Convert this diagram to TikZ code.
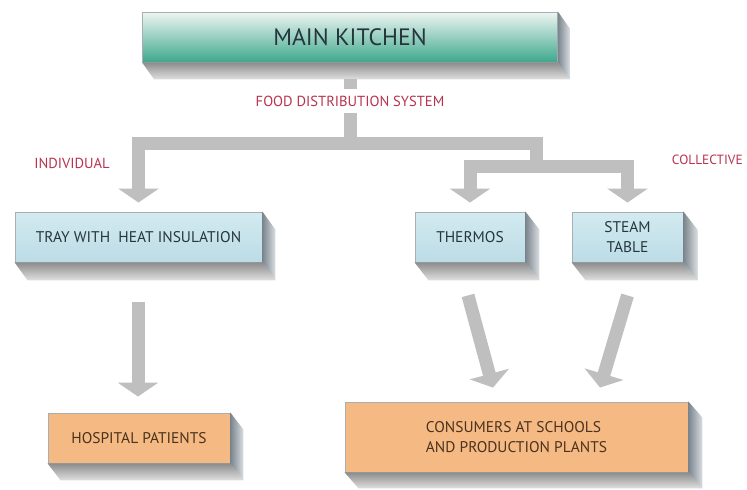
\documentclass[tikz,border=0pt]{standalone}
\usepackage{fontspec}
\setmainfont{PT Sans}
\usetikzlibrary{arrows.meta,calc}
\definecolor{pipegray}{HTML}{BFBFBF}
\definecolor{labelred}{HTML}{B8324F}
\definecolor{edgegray}{HTML}{A7AFB2}
\definecolor{tealtop}{HTML}{EEF5F2}
\definecolor{tealmid}{HTML}{9CD2C1}
\definecolor{tealbot}{HTML}{3FA88D}
\definecolor{bluetop}{HTML}{D3EAF0}
\definecolor{bluebot}{HTML}{BCDCE6}
\definecolor{orangefill}{HTML}{F5B983}
\definecolor{boxtext}{HTML}{26363D}
\definecolor{orangetext}{HTML}{4A321E}
\definecolor{sidedark}{HTML}{7A858D}
\definecolor{sidelight}{HTML}{DADEE1}
\begin{document}
\begin{tikzpicture}[x=0.02cm,y=-0.02cm,line join=miter,>={Triangle[width=0.8cm,length=0.28cm]}]
	\tikzset{
		front/.style={draw=edgegray,line width=0.5pt,inner sep=0pt,align=center,minimum height=1cm,font=\fontsize{8.8}{11}\selectfont},
		kitchenbox/.style={front,top color=tealtop,middle color=tealmid,bottom color=tealbot,text=boxtext,font=\fontsize{13.5}{16}\selectfont},
		bluebox/.style={front,top color=bluetop,bottom color=bluebot,text=boxtext},
		orangebox/.style={front,fill=orangefill,text=orangetext},
		slab/.style={top color=black!45,bottom color=black!12},
		side/.style={left color=sidedark,right color=sidelight},
		pipe/.style={draw=pipegray,line width=0.26cm},
		redlabel/.style={text=labelred,font=\fontsize{8.3}{10}\selectfont}
	}
	\useasboundingbox (0,0) rectangle (747,490);
	% boxes
	\node[kitchenbox,minimum width=8.3cm] (main) at (350,37) {MAIN KITCHEN};
	\node[bluebox,minimum width=4.94cm] (tray) at (138.5,237) {TRAY WITH~ HEAT INSULATION};
	\node[bluebox,minimum width=2.2cm] (thermos) at (470,237) {THERMOS};
	\node[bluebox,minimum width=2.22cm] (steam) at (627.5,237) {STEAM\\TABLE};
	\node[orangebox,minimum width=3.64cm] (hospital) at (139,438) {HOSPITAL PATIENTS};
	\node[orangebox,minimum width=6.86cm,minimum height=1.4cm,align=left] (consumers) at (516.5,437) {CONSUMERS AT SCHOOLS\\AND PRODUCTION PLANTS};
	\foreach \n/\dx/\dy in {main/12/17,tray/13/18,thermos/14/18,steam/14/18,hospital/13/17,consumers/14/16}
	{
		\shade[slab] (\n.south west) -- (\n.south east) -- ($(\n.south east)+(\dx,\dy)$) -- ($(\n.south west)+(\dx,\dy)$) -- cycle;
		\shade[side] (\n.north east) -- ($(\n.north east)+(\dx,\dy)$) -- ($(\n.south east)+(\dx,\dy)$) -- (\n.south east) -- cycle;
	}
	% pipes
	\coordinate (split) at (350,143);
	\coordinate (fork) at (536,166);
	\draw[pipe] ($(main.south)+(0,17)$) -- (split);
	\draw[pipe,->,shorten >=0.18cm] (split) -| (tray.north);
	\draw[pipe] (split) -| (fork);
	\draw[pipe,->,shorten >=0.18cm] (fork) -| (thermos.north);
	\draw[pipe,->,shorten >=0.18cm] (fork) -| (steam.north);
	\draw[pipe,->] ($(tray.south)+(-0.5,40)$) -- ($(hospital.north)+(-1,-16)$);
	\draw[pipe,->] ($(thermos.south)+(-2,33)$) -- ($(consumers.north)+(-23.5,-14)$);
	\draw[pipe,->] ($(steam.south)+(0,33)$) -- ($(consumers.north)+(83.5,-14)$);
	% labels
	\node[redlabel,fill=white,inner ysep=4pt] (fds) at (350,101) {FOOD DISTRIBUTION SYSTEM};
	\node[redlabel] (individual) at (72,163) {INDIVIDUAL};
	\node[redlabel,anchor=east,inner xsep=0pt,font=\fontsize{7.6}{9}\selectfont] (collective) at (743,160) {COLLECTIVE};
\end{tikzpicture}
\end{document}
